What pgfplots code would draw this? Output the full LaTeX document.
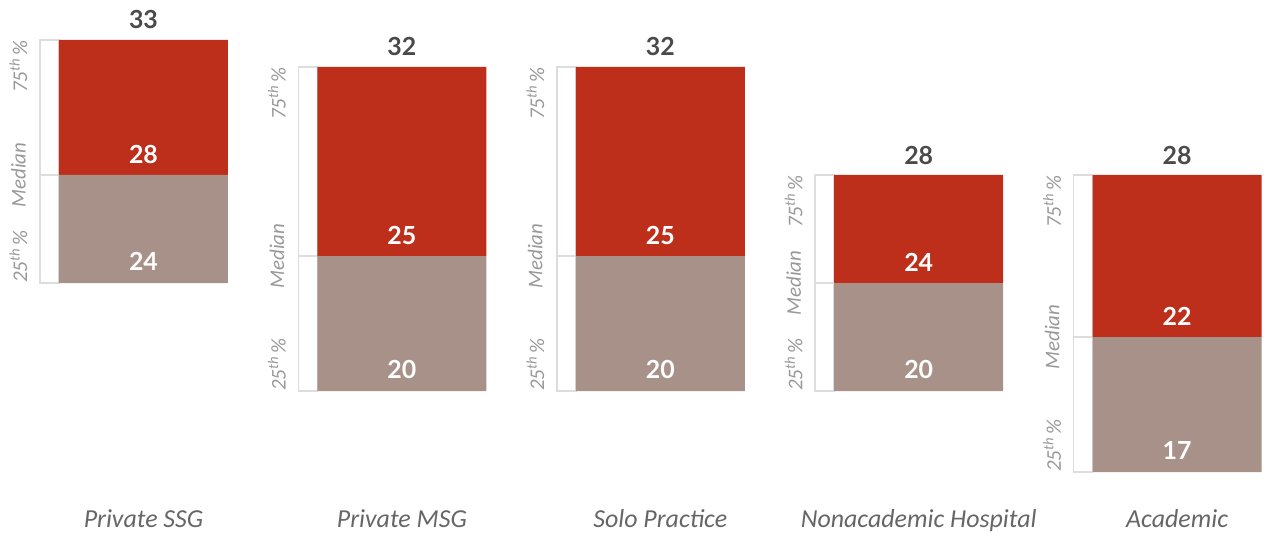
\documentclass[border=0pt]{standalone}
\usepackage{pgfplots}
\pgfplotsset{compat=1.18}
\usepackage{pgfplotstable}
\usepackage{fontspec}
\setmainfont{Carlito}
\newfontfamily\numfont{Lato}

\definecolor{boxred}{HTML}{BD2F1B}
\definecolor{boxgray}{HTML}{A89188}
\definecolor{numgray}{HTML}{4A4A4A}
\definecolor{catgray}{HTML}{666666}
\definecolor{labgray}{HTML}{999999}
\definecolor{bracketgray}{HTML}{DDDDDD}

% 25th percentile, median and 75th percentile per practice setting
\pgfplotstableread{
idx p25 med p75
0   24  28  33
1   20  25  32
2   20  25  32
3   20  24  28
4   17  22  28
}\pay

\tikzset{
  sidefont/.style={inner sep=0pt, text=labgray,
    font=\fontsize{21}{25}\selectfont\itshape},
}
\pgfplotsset{
  frame/.style={
    width=1264bp, height=535bp, scale only axis,
    xmin=-0.5553, xmax=4.3363, ymin=14.6667, ymax=34.4815,
  },
  numlabel/.style={
    draw=none, mark=none, nodes near coords, point meta=explicit symbolic,
    nodes near coords style={anchor=base, inner sep=0pt,
      font=\numfont\bfseries\fontsize{25}{29}\selectfont},
  },
  sidelabel/.style={
    draw=none, mark=none,
    nodes near coords={#1},
  },
}

\begin{document}
\begin{tikzpicture}

% side brackets: 25th to median, median to 75th
\begin{axis}[frame, hide axis, ybar stacked, bar width=19bp, bar shift=-94bp]
  \addplot[draw=none, fill=none] table[x=idx, y=p25]{\pay};
  \addplot[fill=white, draw=bracketgray, line width=1.5bp]
    table[x=idx, y expr=\thisrow{med}-\thisrow{p25}]{\pay};
  \addplot[fill=white, draw=bracketgray, line width=1.5bp]
    table[x=idx, y expr=\thisrow{p75}-\thisrow{med}]{\pay};
\end{axis}

% interquartile boxes split at the median
\begin{axis}[frame, hide axis, ybar stacked, bar width=169bp, bar shift=0bp]
  \addplot[draw=none, fill=none] table[x=idx, y=p25]{\pay};
  \addplot[fill=boxgray, draw=none]
    table[x=idx, y expr=\thisrow{med}-\thisrow{p25}]{\pay};
  \addplot[fill=boxred, draw=none]
    table[x=idx, y expr=\thisrow{p75}-\thisrow{med}]{\pay};
\end{axis}

% value labels, bracket labels and category names
\begin{axis}[frame,
    axis line style={draw=none}, major tick length=0pt,
    ytick=\empty, xtick={0,1,2,3,4},
    xticklabels={Private SSG, Private MSG, Solo Practice, Nonacademic Hospital, Academic},
    xticklabel style={anchor=base, yshift=8bp, text=catgray,
      font=\fontsize{26}{31}\selectfont\itshape},
  ]
  \addplot[numlabel, nodes near coords style={yshift=11bp, text=numgray}]
    table[x=idx, y=p75, meta=p75]{\pay};
  \addplot[numlabel, nodes near coords style={yshift=12bp, text=white}]
    table[x=idx, y=med, meta=med]{\pay};
  \addplot[numlabel, nodes near coords style={yshift=13bp, text=white}]
    table[x=idx, y=p25, meta=p25]{\pay};

  \addplot[sidelabel={75\textsuperscript{th}\,\%},
    nodes near coords style={sidefont, xshift=-125bp, rotate=90, anchor=east}]
    table[x=idx, y=p75]{\pay};
  \addplot[sidelabel={Median},
    nodes near coords style={sidefont, xshift=-125bp, rotate=90, anchor=center}]
    table[x=idx, y=med]{\pay};
  \addplot[sidelabel={25\textsuperscript{th}\,\%},
    nodes near coords style={sidefont, xshift=-125bp, rotate=90, anchor=west}]
    table[x=idx, y=p25]{\pay};

  \coordinate (bl) at (rel axis cs:0,0);
  \coordinate (tr) at (rel axis cs:1,1);
\end{axis}

\pgfresetboundingbox
\path[use as bounding box] (bl) rectangle (tr);
\end{tikzpicture}
\end{document}
